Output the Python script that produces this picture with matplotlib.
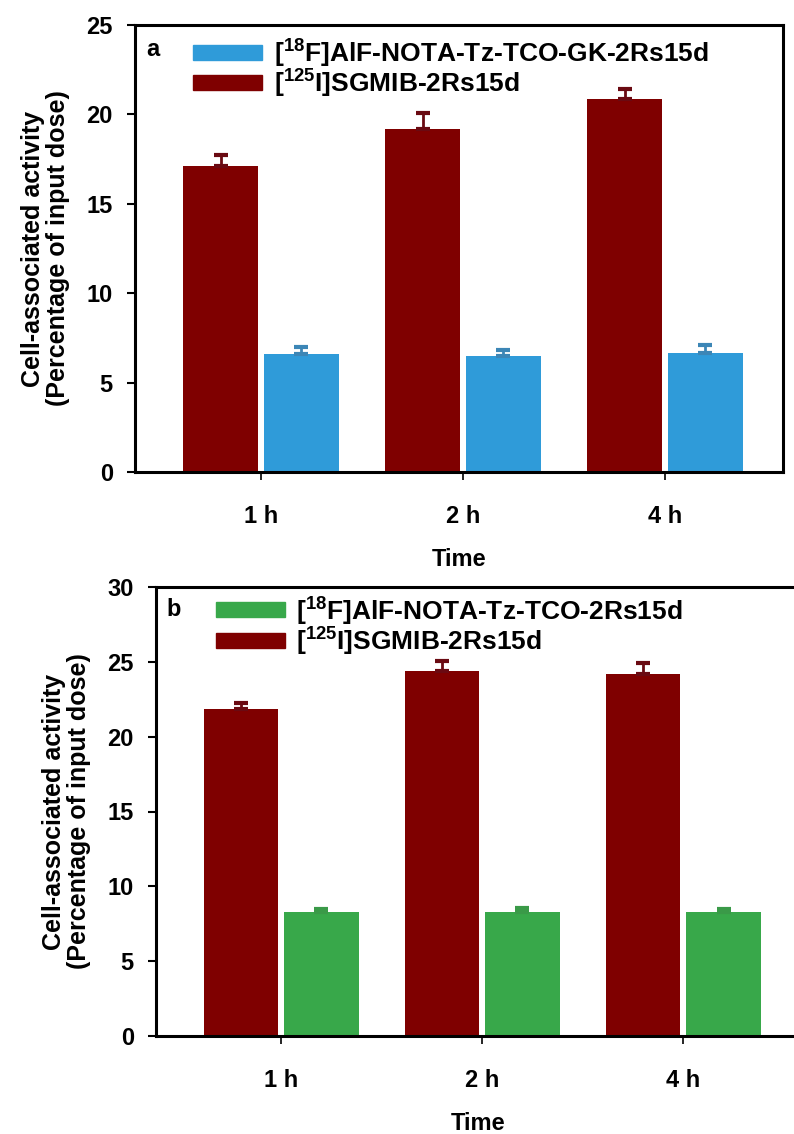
import matplotlib
matplotlib.use("Agg")
import matplotlib.pyplot as plt
import numpy as np
from matplotlib.patches import Patch

plt.rcParams["font.family"] = ["Liberation Sans", "DejaVu Sans"]
plt.rcParams["font.weight"] = "bold"
plt.rcParams["mathtext.fontset"] = "custom"
plt.rcParams["mathtext.rm"] = "Liberation Sans:bold"
plt.rcParams["mathtext.bf"] = "Liberation Sans:bold"

# data
times = ["1 h", "2 h", "4 h"]

a_sgmib = [17.1, 19.18, 20.86]
a_sgmib_err = [0.63, 0.9, 0.56]
a_alf = [6.6, 6.49, 6.67]
a_alf_err = [0.4, 0.33, 0.43]

b_sgmib = [21.85, 24.4, 24.18]
b_sgmib_err = [0.42, 0.67, 0.72]
b_alf = [8.28, 8.28, 8.28]
b_alf_err = [0.2, 0.3, 0.2]

red = "#7f0000"
blue = "#2f9bd9"
green = "#38a84a"

W, H = 794, 1134
fig = plt.figure(figsize=(W / 100, H / 100), dpi=100)


def px_axes(left, top, right, bottom):
    return fig.add_axes([left / W, 1 - bottom / H, (right - left) / W, (bottom - top) / H])


def panel(ax, sgmib, sgmib_err, alf, alf_err, alf_color, err_color, alf_label,
          letter, ymax, xlim, leg_anchor, letter_pos):
    x = np.arange(len(times))
    w = 0.37
    ax.bar(x - 0.2, sgmib, w, color=red, zorder=2)
    ax.errorbar(x - 0.2, sgmib, yerr=[np.zeros(3), sgmib_err], fmt="none",
                ecolor="#6a0a12", elinewidth=2, capsize=5, capthick=3, zorder=3)
    ax.bar(x + 0.2, alf, w, color=alf_color, zorder=2)
    ax.errorbar(x + 0.2, alf, yerr=[np.zeros(3), alf_err], fmt="none",
                ecolor=err_color, elinewidth=2, capsize=5, capthick=3, zorder=3)
    ax.set_ylim(0, ymax)
    ax.set_xlim(*xlim)
    ax.set_yticks(np.arange(0, ymax + 1, 5))
    ax.set_xticks(x)
    ax.set_xticklabels(times)
    for s in ax.spines.values():
        s.set_linewidth(2.2)
    ax.tick_params(axis="y", direction="out", length=6, width=1.5, pad=10, labelsize=17)
    ax.tick_params(axis="x", direction="out", length=6, width=1.2, pad=18, labelsize=17)
    ax.set_xlabel("Time", fontsize=17, fontweight="bold", labelpad=14)
    ax.set_ylabel("Cell-associated activity\n(Percentage of input dose)",
                  fontsize=18, fontweight="bold", labelpad=12, linespacing=1.05)
    handles = [Patch(facecolor=alf_color, edgecolor=alf_color),
               Patch(facecolor=red, edgecolor=red)]
    labels = [alf_label, r"[$^{125}$I]SGMIB-2Rs15d"]
    leg = ax.legend(handles, labels, loc="upper left", bbox_to_anchor=leg_anchor,
                    frameon=False, fontsize=19, handlelength=2.6, handleheight=0.5,
                    handletextpad=0.45, labelspacing=-0.1, borderpad=0,
                    borderaxespad=0)
    for t in leg.get_texts():
        t.set_fontweight("bold")
    ax.text(letter_pos[0], letter_pos[1], letter, transform=ax.transAxes, fontsize=17,
            fontweight="bold", va="center", ha="left")


ax1 = px_axes(135, 25, 783, 472)
panel(ax1, a_sgmib, a_sgmib_err, a_alf, a_alf_err, blue, "#3c86b6",
      r"[$^{18}$F]AlF-NOTA-Tz-TCO-GK-2Rs15d", "a", 25, (-0.624, 2.584),
      (0.09, 0.975), (0.017, 0.945))

ax2 = px_axes(156, 587, 800, 1036)
panel(ax2, b_sgmib, b_sgmib_err, b_alf, b_alf_err, green, "#3a9a48",
      r"[$^{18}$F]AlF-NOTA-Tz-TCO-2Rs15d", "b", 30, (-0.622, 2.58),
      (0.093, 0.985), (0.017, 0.95))

fig.savefig("out.png", dpi=100)
